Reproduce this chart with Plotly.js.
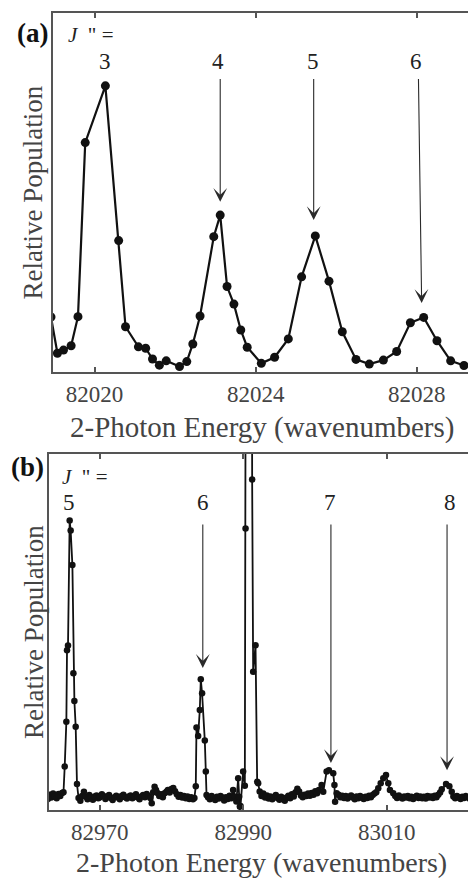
<!DOCTYPE html>
<html>
<head>
<meta charset="utf-8">
<script src="https://cdn.plot.ly/plotly-3.0.1.min.js"></script>
<style>html,body{margin:0;padding:0;background:#fff;}#chart{width:468px;height:880px;}</style>
</head>
<body>
<div id="chart"></div>
<script>
// ---------- Panel (a) data ----------
const energyA = [82018.92, 82019.08, 82019.23, 82019.42, 82019.59, 82019.77, 82020.27, 82020.60, 82020.77, 82021.09,
  82021.27, 82021.44, 82021.61, 82021.78, 82022.11, 82022.29, 82022.44, 82022.62, 82022.96, 82023.12,
  82023.29, 82023.46, 82023.63, 82023.79, 82024.14, 82024.47, 82024.81, 82025.14, 82025.48, 82025.82,
  82026.15, 82026.49, 82026.82, 82027.17, 82027.50, 82027.84, 82028.17, 82028.50, 82028.84, 82029.17, 82029.50];
const populationA = [15.3, 5.2, 6.1, 7.3, 15.4, 63.9, 79.7, 36.6, 12.6, 7.0,
  6.6, 3.6, 1.9, 3.1, 1.5, 2.9, 7.8, 15.6, 37.7, 43.7,
  23.8, 18.9, 11.7, 6.9, 2.4, 4.1, 9.2, 26.5, 37.9, 25.3,
  11.2, 3.5, 2.2, 3.3, 5.7, 13.7, 15.2, 8.7, 3.1, 1.8, 1.6];
const tickValsA = [82020, 82024, 82028];
const jLabelsA = ['3', '4', '5', '6'];
const jLabelXA = [82020.25, 82023.07, 82025.43, 82027.98];
const arrowTipXA = [82023.12, 82025.44, 82028.12];
const arrowTailXA = [82023.12, 82025.44, 82028.04];
const arrowTipYA = [47.4, 42.3, 19.2];

// ---------- Panel (b) data ----------
const energyB = [
  82962.8, 82963.0, 82963.25, 82963.5, 82963.75, 82964.0, 82964.25, 82964.5, 82964.75, 82964.95,
  82965.12, 82965.35, 82965.44, 82965.58, 82965.81, 82965.95, 82966.19, 82966.33, 82966.47, 82966.65, 82966.83,
  82967.05, 82967.3, 82967.55, 82967.8, 82968.05, 82968.3, 82968.55, 82968.8, 82969.05, 82969.3,
  82969.55, 82969.8, 82970.05, 82970.3, 82970.55, 82970.8, 82971.05, 82971.3, 82971.55, 82971.8,
  82972.05, 82972.3, 82972.55, 82972.8, 82973.05, 82973.3, 82973.55, 82973.8, 82974.05, 82974.3,
  82974.55, 82974.8, 82975.05, 82975.3, 82975.55, 82975.8, 82976.05, 82976.3, 82976.55, 82976.8,
  82977.05, 82977.25, 82977.45, 82977.65, 82977.85, 82978.05, 82978.3, 82978.55, 82978.8, 82979.05,
  82979.3, 82979.5, 82979.75, 82980.0, 82980.25, 82980.5, 82980.75, 82981.0, 82981.25, 82981.5,
  82981.75, 82982.0, 82982.25, 82982.5, 82982.75, 82983.0, 82983.2,
  82983.39, 82983.49, 82983.72, 82983.95, 82984.09, 82984.27, 82984.65, 82984.79, 82984.89,
  82985.1, 82985.35, 82985.6, 82985.85, 82986.1, 82986.35, 82986.6, 82986.85, 82987.1, 82987.35,
  82987.6, 82987.85, 82988.1, 82988.35, 82988.6, 82988.85, 82989.05,
  82989.30, 82989.44, 82989.53, 82989.63, 82989.99, 82990.23, 82990.33, 82990.41, 82990.79, 82991.18,
  82991.25, 82991.39, 82991.72, 82991.95, 82992.09,
  82992.3, 82992.55, 82992.8, 82993.05, 82993.3, 82993.55, 82993.8, 82994.05, 82994.3, 82994.55,
  82994.8, 82995.05, 82995.3, 82995.55, 82995.8, 82996.05, 82996.3, 82996.55, 82996.8, 82997.05,
  82997.3, 82997.55, 82997.8, 82998.05, 82998.3, 82998.55, 82998.8, 82999.05, 82999.3, 82999.55,
  82999.8, 83000.05, 83000.3, 83000.55,
  83000.93, 83001.16, 83001.63, 83001.95, 83002.55, 83002.72, 83002.81, 83003.03,
  83003.3, 83003.55, 83003.8, 83004.05, 83004.3, 83004.55, 83004.8, 83005.05, 83005.3, 83005.55,
  83005.8, 83006.05, 83006.3, 83006.55, 83006.8, 83007.05, 83007.3, 83007.55, 83007.8, 83008.05,
  83008.3, 83008.55,
  83008.83, 83009.17, 83009.53, 83009.91, 83010.23, 83010.46, 83010.92,
  83011.2, 83011.45, 83011.7, 83011.95, 83012.2, 83012.45, 83012.7, 83012.95, 83013.2, 83013.45,
  83013.7, 83013.95, 83014.2, 83014.45, 83014.7, 83014.95, 83015.2, 83015.45, 83015.7, 83015.95,
  83016.2, 83016.45, 83016.7, 83016.95, 83017.2, 83017.45,
  83017.68, 83018.28, 83018.74, 83019.07,
  83019.3, 83019.55, 83019.8, 83020.05, 83020.3, 83020.55, 83020.8, 83021.05, 83021.3, 83021.55];
const populationB = [
  3.1, 4.3, 3.5, 4.6, 3.8, 3.3, 4.5, 3.9, 4.8, 5.0,
  12.2, 24.8, 44.9, 46.2, 81.3, 78.5, 68.8, 38.4, 30.6, 23.4, 7.3,
  3.4, 2.6, 3.9, 5.1, 3.7, 3.0, 4.2, 3.5, 2.9, 3.8,
  4.1, 3.3, 3.6, 4.4, 3.9, 3.1, 3.7, 4.2, 3.4, 2.8,
  3.6, 4.0, 3.5, 3.0, 3.9, 4.3, 3.6, 3.2, 3.8, 4.1,
  3.3, 3.7, 4.4, 3.5, 3.0, 3.8, 4.2, 3.6, 4.5, 3.9,
  3.4, 1.9, 5.0, 6.5, 5.6, 4.8, 3.9, 4.4, 3.6, 4.7,
  5.1, 5.6, 4.9, 5.9, 6.2, 5.3, 4.4, 3.7, 4.2, 3.5,
  3.9, 3.3, 3.8, 3.1, 3.6, 3.0, 3.4,
  6.7, 23.2, 20.8, 28.1, 36.7, 32.8, 19.5, 10.8, 4.2,
  3.6, 3.0, 3.9, 3.4, 2.8, 3.7, 3.2, 3.9, 3.5, 2.7,
  3.6, 3.1, 4.0, 3.3, 5.6, 3.8, 2.4,
  8.9, 3.7, 0.9, 1.1, 10.8, 6.8, 79.1, 200, 260, 200,
  92.8, 38.8, 46.3, 7.9, 7.5,
  5.2, 3.9, 4.6, 3.5, 4.1, 3.2, 3.8, 3.0, 3.6, 4.2,
  3.4, 2.9, 3.7, 3.1, 2.6, 3.5, 4.0, 3.3, 4.4, 3.8,
  5.0, 6.0, 5.2, 4.1, 3.6, 4.3, 3.9, 4.6, 4.0, 4.8,
  4.3, 5.3, 4.7, 5.6,
  7.0, 5.1, 10.8, 11.2, 10.3, 7.0, 2.3, 4.7,
  4.3, 3.6, 4.0, 3.4, 3.9, 3.2, 3.7, 4.1, 3.5, 3.0,
  3.8, 3.3, 3.9, 3.5, 3.1, 3.7, 3.4, 4.0, 3.6, 4.2,
  4.6, 5.0,
  6.1, 7.5, 8.9, 9.8, 7.5, 5.6, 4.7,
  3.9, 3.4, 4.1, 3.6, 3.2, 3.8, 3.5, 3.9, 3.3, 3.7,
  3.1, 3.6, 4.0, 3.4, 3.8, 3.3, 3.7, 3.2, 3.9, 3.5,
  3.8, 3.4, 4.0, 3.6, 4.3, 4.9,
  5.8, 7.3, 6.7, 5.1,
  3.8, 3.3, 3.9, 3.5, 3.1, 3.7, 3.4, 3.9, 3.6, 3.2];
const tickValsB = [82970, 82990, 83010];
const jLabelsB = ['5', '6', '7', '8'];
const jLabelXB = [82965.72, 82984.33, 83002.09, 83018.83];
const arrowTipXB = [82984.37, 83002.23, 83018.42];
const arrowTipYB = [39.9, 13.2, 11.2];

const xTitle = '2-Photon Energy (wavenumbers)';
const yTitle = 'Relative Population';
const jText = '<i>J</i>\u00a0\u00a0"\u00a0=';

// ---------- styling ----------
const SERIF = 'Liberation Serif';
const AXC = '#555';
const TXC = '#444';

const traces = [
  {x: energyA, y: populationA, xaxis: 'x', yaxis: 'y', mode: 'lines+markers', type: 'scatter',
   line: {color: '#111', width: 2.2}, marker: {color: '#111', size: 9}, hoverinfo: 'skip'},
  {x: energyB, y: populationB, xaxis: 'x2', yaxis: 'y2', mode: 'lines+markers', type: 'scatter',
   line: {color: '#111', width: 1.8}, marker: {color: '#111', size: 6.5}, hoverinfo: 'skip'}
];

function xAxis(range, ticks, domain, anchor) {
  return {domain: domain, range: range, anchor: anchor, tickvals: ticks, ticktext: ticks.map(String),
    ticks: 'inside', ticklen: 5, tickwidth: 2, tickcolor: AXC, showline: true, linecolor: AXC, linewidth: 2,
    mirror: 'ticks', showgrid: false, zeroline: false,
    tickfont: {family: SERIF, size: 23, color: TXC}};
}
function yAxis(domain, anchor) {
  return {domain: domain, range: [0, 100], anchor: anchor, showticklabels: false, ticks: '',
    showline: true, linecolor: AXC, linewidth: 2, showgrid: false, zeroline: false};
}

const annotations = [];
function txt(text, x, y, xref, yref, opts) {
  annotations.push(Object.assign({text: text, x: x, y: y, xref: xref, yref: yref, showarrow: false,
    font: {family: SERIF, size: 23, color: '#222'}}, opts || {}));
}
// panel letters
txt('<b>(a)</b>', -0.0811, 0.9749, 'paper', 'paper', {xanchor: 'left', yanchor: 'middle', font: {family: SERIF, size: 27, color: '#111'}});
txt('<b>(b)</b>', -0.0955, 0.4304, 'paper', 'paper', {xanchor: 'left', yanchor: 'middle', font: {family: SERIF, size: 27, color: '#111'}});
// J'' =
txt(jText, 0.0406, 0.9724, 'paper', 'paper', {xanchor: 'left', yanchor: 'middle', font: {family: SERIF, size: 21, color: '#222'}});
txt(jText, 0.0263, 0.4178, 'paper', 'paper', {xanchor: 'left', yanchor: 'middle', font: {family: SERIF, size: 21, color: '#222'}});
// J numbers
jLabelsA.forEach((t, i) => txt(t, jLabelXA[i], 86.6, 'x', 'y', {yanchor: 'middle'}));
jLabelsB.forEach((t, i) => txt(t, jLabelXB[i], 86.5, 'x2', 'y2', {yanchor: 'middle'}));
// arrows
function arrow(xref, yref, x, y, ax, ay) {
  annotations.push({text: '', showarrow: true, xref: xref, yref: yref, axref: xref, ayref: yref,
    x: x, y: y, ax: ax, ay: ay, arrowhead: 3, arrowsize: 2.1, arrowwidth: 1.1, arrowcolor: '#2a2a2a', standoff: 0});
}
arrowTipXA.forEach((x, i) => arrow('x', 'y', x, arrowTipYA[i], arrowTailXA[i], 82.0));
arrowTipXB.forEach((x, i) => arrow('x2', 'y2', x, arrowTipYB[i], x, 80.6));
// axis titles
txt(yTitle, -0.036, 0.7748, 'paper', 'paper', {textangle: -90, xanchor: 'center', yanchor: 'middle', font: {family: SERIF, size: 27, color: TXC}});
txt(yTitle, -0.036, 0.2233, 'paper', 'paper', {textangle: -90, xanchor: 'center', yanchor: 'middle', font: {family: SERIF, size: 27, color: TXC}});
txt(xTitle, 0.508, 0.4793, 'paper', 'paper', {xanchor: 'center', yanchor: 'middle', font: {family: SERIF, size: 29, color: TXC}});
txt(xTitle, 0.508, -0.066, 'paper', 'paper', {xanchor: 'center', yanchor: 'middle', font: {family: SERIF, size: 28, color: TXC}});

const layout = {
  width: 468, height: 880,
  margin: {l: 49, r: 0, t: 13, b: 70},
  paper_bgcolor: '#fff', plot_bgcolor: '#fff',
  showlegend: false,
  font: {family: SERIF},
  xaxis: xAxis([82018.97, 82029.27], tickValsA, [0.00955, 1], 'y'),
  yaxis: yAxis([0.5496, 1], 'x'),
  xaxis2: xAxis([82962.93, 83021.34], tickValsB, [0, 1], 'y2'),
  yaxis2: yAxis([0, 0.4467], 'x2'),
  annotations: annotations
};

Plotly.newPlot('chart', traces, layout, {displayModeBar: false, staticPlot: true});
</script>
</body>
</html>
